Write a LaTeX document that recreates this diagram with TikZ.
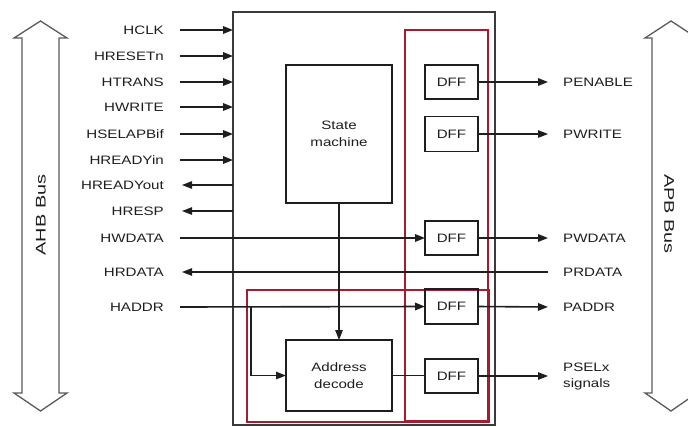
\documentclass[tikz,border=0pt]{standalone}
\usepackage{fontspec}
\setmainfont[FakeStretch=1.24]{Liberation Sans}
\newfontfamily\busfont[FakeStretch=1.42]{Liberation Sans}
\usetikzlibrary{arrows.meta}
\definecolor{ink}{HTML}{1E1E1E}
\definecolor{frame}{HTML}{A31D2E}
\definecolor{busgray}{HTML}{5A5A5A}
\definecolor{boxgray}{HTML}{3A3A3A}
\begin{document}
\begin{tikzpicture}[x=1pt,y=-1pt,
  lbl/.style={font=\fontsize{12.2}{16}\selectfont, text=ink, inner sep=0pt, align=center},
  busl/.style={font=\busfont\fontsize{14}{16}\selectfont, text=ink, inner sep=0pt},
  blk/.style={draw=ink, line width=1.4pt, inner sep=0pt, outer sep=0pt, font=\fontsize{12.2}{17}\selectfont, text=ink, align=center},
  redbox/.style={draw=frame, line width=1.3pt, inner sep=0pt, outer sep=0pt},
  sig/.style={draw=ink, line width=1.6pt, -{Triangle[length=10pt,width=7.5pt]}},
  thin/.style={line width=1.3pt},
  plain/.style={draw=ink, line width=1.3pt},
  bus/.style={draw=busgray, line width=1.3pt, fill=white, line join=miter}
]
\clip (0,0) rectangle (688,426);
% bus arrows
\draw[bus] (40.5,21) -- (67,38) -- (59,38) -- (59,393) -- (67,393) -- (40.5,411) -- (14,393) -- (22,393) -- (22,38) -- (14,38) -- cycle;
\draw[bus] (671,21) -- (697,38) -- (690,38) -- (690,393) -- (697,393) -- (671,411) -- (645,393) -- (652,393) -- (652,38) -- (645,38) -- cycle;
\node[busl, rotate=90] (ahb) at (41,215) {AHB Bus};
\node[busl, rotate=-90] (apb) at (669,214) {APB Bus};

% main blocks
\node[draw=boxgray, line width=1.7pt, inner sep=0pt, outer sep=0pt, minimum width=262pt, minimum height=413pt] (main) at (364,218.5) {};
\node[redbox, minimum width=83pt, minimum height=391pt] (red1) at (446.5,225.5) {};
\node[redbox, minimum width=242pt, minimum height=132pt] (red2) at (368,356) {};
\draw[frame, line width=2pt] (red2.north east) -- (red2.south east);
\node[blk, minimum width=106pt, minimum height=138pt] (sm) at (339,134) {State\\machine};
\node[blk, minimum width=106pt, minimum height=71pt] (ad) at (339,375.5) {Address\\decode};
\node[blk, minimum width=53pt, minimum height=34pt] (dffA) at (451.5,82) {DFF};
\node[blk, minimum width=53pt, minimum height=35pt] (dffB) at (451.5,134) {DFF};
\node[blk, minimum width=53pt, minimum height=34pt] (dffC) at (451.5,238) {DFF};
\node[blk, minimum width=53pt, minimum height=35pt] (dffD) at (451.5,306.5) {DFF};
\node[blk, minimum width=53pt, minimum height=34pt] (dffE) at (451.5,376) {DFF};

% left labels
\node[lbl, anchor=east] (hclk) at (164,30) {HCLK};
\node[lbl, anchor=east] (hresetn) at (164,56) {HRESETn};
\node[lbl, anchor=east] (htrans) at (164,82) {HTRANS};
\node[lbl, anchor=east] (hwrite) at (164,107) {HWRITE};
\node[lbl, anchor=east] (hsel) at (164,134) {HSELAPBif};
\node[lbl, anchor=east] (hreadyin) at (164,160) {HREADYin};
\node[lbl, anchor=east] (hreadyout) at (164,185) {HREADYout};
\node[lbl, anchor=east] (hresp) at (164,211) {HRESP};
\node[lbl, anchor=east] (hwdata) at (164,238) {HWDATA};
\node[lbl, anchor=east] (hrdata) at (164,272) {HRDATA};
\node[lbl, anchor=east] (haddr) at (164,307) {HADDR};

% right labels
\node[lbl, anchor=west] (penable) at (563,82) {PENABLE};
\node[lbl, anchor=west] (pwrite) at (563,134) {PWRITE};
\node[lbl, anchor=west] (pwdata) at (563,238) {PWDATA};
\node[lbl, anchor=west] (prdata) at (563,272) {PRDATA};
\node[lbl, anchor=west] (paddr) at (563,307) {PADDR};
\node[lbl, anchor=west, align=left] (psel) at (563,376) {PSELx\\signals};

% inputs
\foreach \n in {hclk,hresetn,htrans,hwrite,hsel,hreadyin}
  \draw[sig] ([xshift=16pt]\n.east) -- (\n.east -| main.west);
% outputs to AHB
\foreach \n in {hreadyout,hresp}
  \draw[sig, thin] (\n.east -| main.west) -- ([xshift=18pt]\n.east);
% data paths
\draw[sig] ([xshift=16pt]hwdata.east) -- (dffC.west);
\draw[sig, thin] ([xshift=-15pt]prdata.west) -- ([xshift=18pt]hrdata.east);
\draw[sig] ([xshift=16pt]haddr.east) -- (dffD.west);
\coordinate (br) at (251,307);
\draw[sig, thin] (br) |- (ad.west);
\draw[sig, thin] (sm.south) -- (ad.north);
\draw[plain] (ad.east) -- (dffE.west |- ad.east);

% APB outputs
\draw[sig] (dffA.east) -- ([xshift=-15pt]penable.west);
\draw[sig, thin] (dffB.east) -- ([xshift=-15pt]pwrite.west);
\draw[sig] (dffC.east) -- ([xshift=-15pt]pwdata.west);
\draw[sig] (dffD.east) -- ([xshift=-15pt]paddr.west);
\draw[sig, thin] (dffE.east) -- ([xshift=-15pt]psel.west);
\end{tikzpicture}
\end{document}
